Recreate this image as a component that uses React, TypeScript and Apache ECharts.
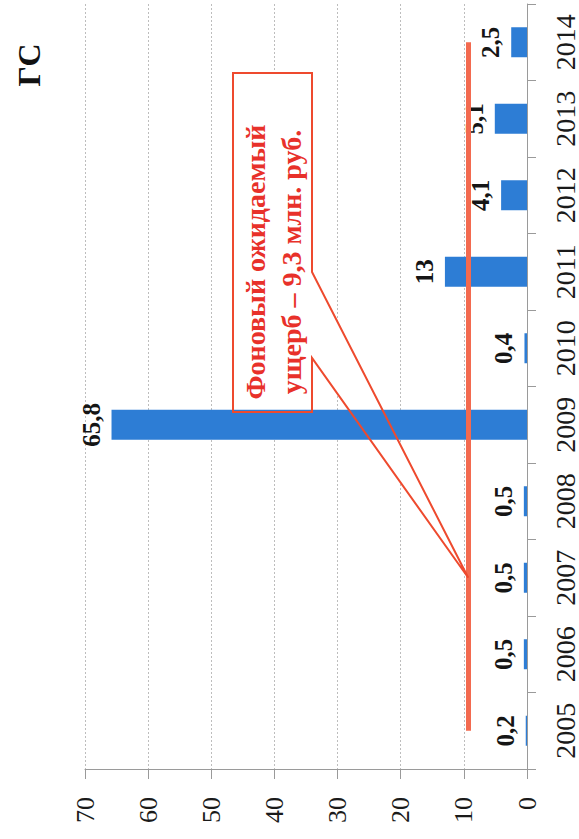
import React, { useEffect, useRef } from 'react';
import * as echarts from 'echarts';

const years = ['2005', '2006', '2007', '2008', '2009', '2010', '2011', '2012', '2013', '2014'];
const damage = [0.2, 0.5, 0.5, 0.5, 65.8, 0.4, 13, 4.1, 5.1, 2.5];
const backgroundDamage = 9.3;
const calloutYear = '2007';
const valueMin = 0;
const valueMax = 70;
const valueInterval = 10;
const titleText = 'ГС';
const calloutText = ['Фоновый ожидаемый', 'ущерб – 9,3 млн. руб.'];

const SERIF = '"Liberation Serif", "Times New Roman", serif';

export default function App() {
  const ref = useRef<HTMLDivElement>(null);

  useEffect(() => {
    document.body.style.margin = '0';
    const el = ref.current;
    if (!el) return;
    const chart = echarts.init(el, null, { renderer: 'svg' });
    const option: any = {
      animation: false,
      backgroundColor: '#ffffff',
      grid: { left: 85, right: 49, top: 4, bottom: 70, containLabel: false },
      xAxis: {
        type: 'value',
        inverse: true,
        min: valueMin,
        max: valueMax,
        interval: valueInterval,
        position: 'bottom',
        axisLine: { show: true, lineStyle: { color: '#9a9a9a', width: 1 } },
        axisTick: { show: true, length: 10, lineStyle: { color: '#9a9a9a' } },
        splitLine: { show: true, lineStyle: { color: '#bdbdbd', width: 1, type: [2, 2] } },
        axisLabel: {
          rotate: 90,
          margin: 28,
          fontSize: 26,
          fontFamily: SERIF,
          color: '#1a1a1a',
        },
      },
      yAxis: {
        type: 'category',
        position: 'right',
        data: years,
        boundaryGap: true,
        axisLine: { show: true, lineStyle: { color: '#9a9a9a', width: 1 } },
        axisTick: { show: true, length: 9, lineStyle: { color: '#9a9a9a' } },
        splitLine: { show: false },
        axisLabel: {
          rotate: 90,
          margin: 24,
          fontSize: 28,
          fontFamily: SERIF,
          color: '#1a1a1a',
        },
      },
      series: [
        {
          type: 'bar',
          data: damage,
          barWidth: 30,
          itemStyle: { color: '#2d7dd5' },
          label: {
            show: true,
            position: 'left',
            distance: 8,
            rotate: 90,
            align: 'center',
            verticalAlign: 'bottom',
            fontSize: 25,
            fontWeight: 'bold',
            fontFamily: SERIF,
            color: '#151515',
            formatter: (p: any) => String(p.value).replace('.', ','),
          },
          markLine: {
            silent: true,
            symbol: ['none', 'none'],
            label: { show: false },
            lineStyle: { color: '#f36a4f', width: 5, type: 'solid' },
            z: 6,
            data: [
              [
                { coord: [backgroundDamage, years[0]] },
                { coord: [backgroundDamage, years[years.length - 1]] },
              ],
            ],
          },
        },
      ],
    };
    chart.setOption(option);

    const tip = chart.convertToPixel({ gridIndex: 0 }, [backgroundDamage, years.indexOf(calloutYear)]) as number[];
    const bx0 = 233, by0 = 73, bx1 = 312, by1 = 412, wy0 = 272, wy1 = 358;
    const pts = [
      [bx0, by0], [bx1, by0], [bx1, wy0], [tip[0], tip[1]], [bx1, wy1], [bx1, by1], [bx0, by1],
    ];
    chart.setOption({
      graphic: [
        {
          type: 'polygon',
          z: 1,
          silent: true,
          shape: { points: pts },
          style: { fill: '#ffffff', stroke: 'none' },
        },
        {
          type: 'polygon',
          z: 20,
          silent: true,
          shape: { points: pts },
          style: { fill: 'none', stroke: '#ee4a2e', lineWidth: 2 },
        },
        {
          type: 'text',
          z: 21,
          x: (bx0 + bx1) / 2 + 1,
          y: 262,
          rotation: Math.PI / 2,
          style: {
            text: calloutText.join('\n'),
            fontSize: 28,
            fontWeight: 'bold',
            fontFamily: SERIF,
            fill: '#e8312a',
            lineHeight: 36,
            align: 'center',
            verticalAlign: 'middle',
          },
        },
        {
          type: 'text',
          z: 21,
          x: 29,
          y: 65,
          rotation: Math.PI / 2,
          style: {
            text: titleText,
            fontSize: 32,
            fontWeight: 'bold',
            fontFamily: SERIF,
            fill: '#111111',
            align: 'center',
            verticalAlign: 'middle',
          },
        },
      ],
    });

    return () => chart.dispose();
  }, []);

  return <div ref={ref} style={{ width: 579, height: 839 }} />;
}
